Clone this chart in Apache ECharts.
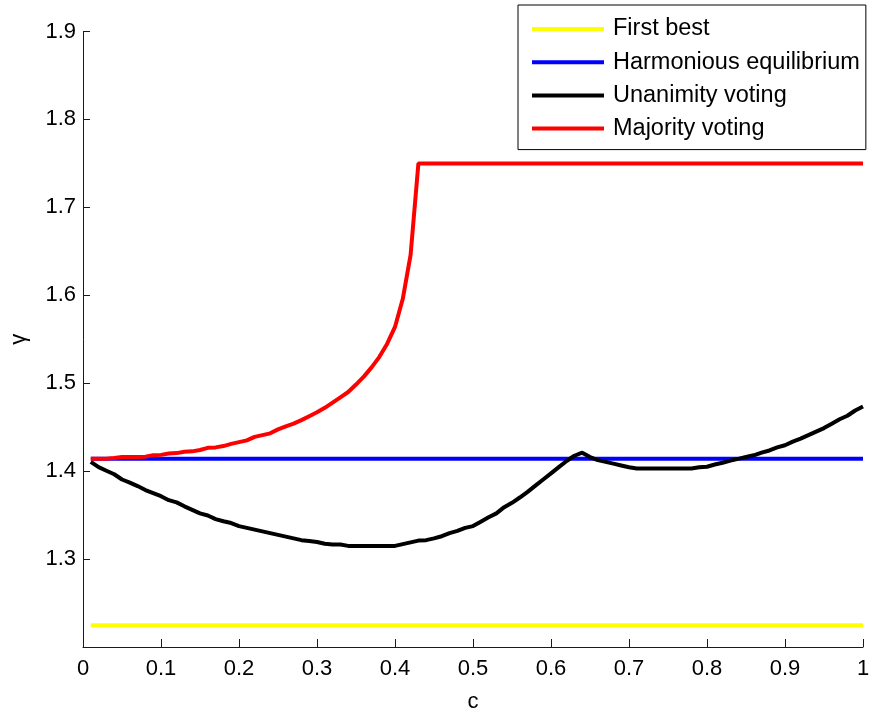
<!DOCTYPE html>
<html>
<head>
<meta charset="utf-8">
<script src="https://cdn.jsdelivr.net/npm/echarts@6/dist/echarts.min.js"></script>
<style>
  html, body { margin: 0; padding: 0; background: #ffffff; }
  #chart { width: 871px; height: 710px; }
</style>
</head>
<body>
<div id="chart"></div>
<script>
// Cost parameter c
const cValues = [
  0.01, 0.02, 0.03, 0.04, 0.05, 0.06, 0.07, 0.08, 0.09, 0.10,
  0.11, 0.12, 0.13, 0.14, 0.15, 0.16, 0.17, 0.18, 0.19, 0.20,
  0.21, 0.22, 0.23, 0.24, 0.25, 0.26, 0.27, 0.28, 0.29, 0.30,
  0.31, 0.32, 0.33, 0.34, 0.35, 0.36, 0.37, 0.38, 0.39, 0.40,
  0.41, 0.42, 0.43, 0.44, 0.45, 0.46, 0.47, 0.48, 0.49, 0.50,
  0.51, 0.52, 0.53, 0.54, 0.55, 0.56, 0.57, 0.58, 0.59, 0.60,
  0.61, 0.62, 0.63, 0.64, 0.65, 0.66, 0.67, 0.68, 0.69, 0.70,
  0.71, 0.72, 0.73, 0.74, 0.75, 0.76, 0.77, 0.78, 0.79, 0.80,
  0.81, 0.82, 0.83, 0.84, 0.85, 0.86, 0.87, 0.88, 0.89, 0.90,
  0.91, 0.92, 0.93, 0.94, 0.95, 0.96, 0.97, 0.98, 0.99, 1.00
];

// Constant benchmarks
const firstBest = 1.2247;
const harmonious = 1.4142;

// gamma under unanimity voting
const unanimity = [
  1.4105, 1.4045, 1.4005, 1.3965, 1.3905, 1.3870, 1.3830, 1.3785, 1.3750, 1.3715,
  1.3670, 1.3645, 1.3600, 1.3560, 1.3520, 1.3495, 1.3455, 1.3430, 1.3410, 1.3375,
  1.3355, 1.3335, 1.3315, 1.3295, 1.3275, 1.3255, 1.3235, 1.3215, 1.3205, 1.3195,
  1.3175, 1.3165, 1.3165, 1.3150, 1.3150, 1.3150, 1.3150, 1.3150, 1.3150, 1.3150,
  1.3170, 1.3190, 1.3210, 1.3215, 1.3235, 1.3260, 1.3295, 1.3320, 1.3355, 1.3375,
  1.3425, 1.3475, 1.3520, 1.3590, 1.3640, 1.3700, 1.3765, 1.3835, 1.3905, 1.3975,
  1.4045, 1.4115, 1.4175, 1.4210, 1.4160, 1.4125, 1.4105, 1.4085, 1.4065, 1.4045,
  1.4030, 1.4030, 1.4030, 1.4030, 1.4030, 1.4030, 1.4030, 1.4030, 1.4045, 1.4050,
  1.4075, 1.4095, 1.4120, 1.4140, 1.4160, 1.4180, 1.4210, 1.4235, 1.4270, 1.4295,
  1.4335, 1.4370, 1.4410, 1.4450, 1.4490, 1.4540, 1.4590, 1.4630, 1.4690, 1.4735
];

// gamma under majority voting
const majority = [
  1.4142, 1.4142, 1.4142, 1.4150, 1.4160, 1.4160, 1.4160, 1.4165, 1.4180, 1.4185,
  1.4200, 1.4205, 1.4220, 1.4225, 1.4240, 1.4265, 1.4270, 1.4285, 1.4310, 1.4330,
  1.4350, 1.4390, 1.4410, 1.4430, 1.4475, 1.4510, 1.4540, 1.4580, 1.4625, 1.4670,
  1.4720, 1.4780, 1.4840, 1.4900, 1.4985, 1.5075, 1.5180, 1.5300, 1.5450, 1.5640,
  1.5960, 1.6460, 1.7500, 1.7500, 1.7500, 1.7500, 1.7500, 1.7500, 1.7500, 1.7500,
  1.7500, 1.7500, 1.7500, 1.7500, 1.7500, 1.7500, 1.7500, 1.7500, 1.7500, 1.7500,
  1.7500, 1.7500, 1.7500, 1.7500, 1.7500, 1.7500, 1.7500, 1.7500, 1.7500, 1.7500,
  1.7500, 1.7500, 1.7500, 1.7500, 1.7500, 1.7500, 1.7500, 1.7500, 1.7500, 1.7500,
  1.7500, 1.7500, 1.7500, 1.7500, 1.7500, 1.7500, 1.7500, 1.7500, 1.7500, 1.7500,
  1.7500, 1.7500, 1.7500, 1.7500, 1.7500, 1.7500, 1.7500, 1.7500, 1.7500, 1.7500
];

const seriesNames = ['First best', 'Harmonious equilibrium', 'Unanimity voting', 'Majority voting'];
const seriesColors = ['#ffff00', '#0000ff', '#000000', '#ff0000'];

const pair = (ys) => cValues.map((c, i) => [c, ys[i]]);
const cFirst = cValues[0];
const cLast = cValues[cValues.length - 1];

const FONT = '"Liberation Sans", Arial, Helvetica, sans-serif';
const AXIS_COLOR = '#1a1a1a';

const chart = echarts.init(document.getElementById('chart'), null, { renderer: 'canvas' });

const lineSeries = (name, color, data) => ({
  name: name,
  type: 'line',
  data: data,
  color: color,
  showSymbol: false,
  symbol: 'none',
  lineStyle: { color: color, width: 4 },
  emphasis: { disabled: true },
  z: 2
});

chart.setOption({
  animation: false,
  backgroundColor: '#ffffff',
  textStyle: { fontFamily: FONT },
  grid: {
    left: 83, right: 8, top: 31.5, bottom: 63,
    containLabel: false,
    outerBoundsMode: 'none'
  },
  legend: {
    data: seriesNames,
    orient: 'vertical',
    left: 518,
    top: 5,
    padding: [12, 6, 9, 14],
    itemGap: 9.2,
    itemWidth: 72,
    itemHeight: 4,
    icon: 'rect',
    backgroundColor: '#ffffff',
    borderColor: '#000000',
    borderWidth: 1,
    borderRadius: 0,
    selectedMode: false,
    textStyle: {
      fontFamily: FONT,
      fontSize: 23.5,
      color: '#000000',
      lineHeight: 24,
      padding: [0, 0, 0, 4]
    }
  },
  xAxis: {
    type: 'value',
    min: 0,
    max: 1,
    interval: 0.1,
    name: 'c',
    nameLocation: 'middle',
    nameGap: 44,
    nameTextStyle: { fontFamily: FONT, fontSize: 22, color: '#000000' },
    axisLine: { show: true, onZero: false, lineStyle: { color: AXIS_COLOR, width: 1 } },
    axisTick: { show: true, inside: true, length: 8, lineStyle: { color: AXIS_COLOR, width: 1 } },
    axisLabel: {
      fontFamily: FONT, fontSize: 22, color: '#000000', margin: 11,
      formatter: (v) => String(Math.round(v * 10) / 10)
    },
    splitLine: { show: false }
  },
  yAxis: {
    type: 'value',
    min: 1.2,
    max: 1.9,
    interval: 0.1,
    name: 'γ',
    nameLocation: 'middle',
    nameRotate: 90,
    nameGap: 53,
    nameTextStyle: { fontFamily: FONT, fontSize: 22, color: '#000000' },
    axisLine: { show: true, onZero: false, lineStyle: { color: AXIS_COLOR, width: 1 } },
    axisTick: { show: true, inside: true, length: 7, lineStyle: { color: AXIS_COLOR, width: 1 } },
    axisLabel: {
      fontFamily: FONT, fontSize: 22, color: '#000000', margin: 7,
      showMinLabel: false,
      formatter: (v) => (Math.round(v * 10) / 10).toFixed(1)
    },
    splitLine: { show: false }
  },
  series: [
    lineSeries(seriesNames[0], seriesColors[0], [[cFirst, firstBest], [cLast, firstBest]]),
    lineSeries(seriesNames[1], seriesColors[1], [[cFirst, harmonious], [cLast, harmonious]]),
    lineSeries(seriesNames[2], seriesColors[2], pair(unanimity)),
    lineSeries(seriesNames[3], seriesColors[3], pair(majority))
  ]
});
</script>
</body>
</html>
